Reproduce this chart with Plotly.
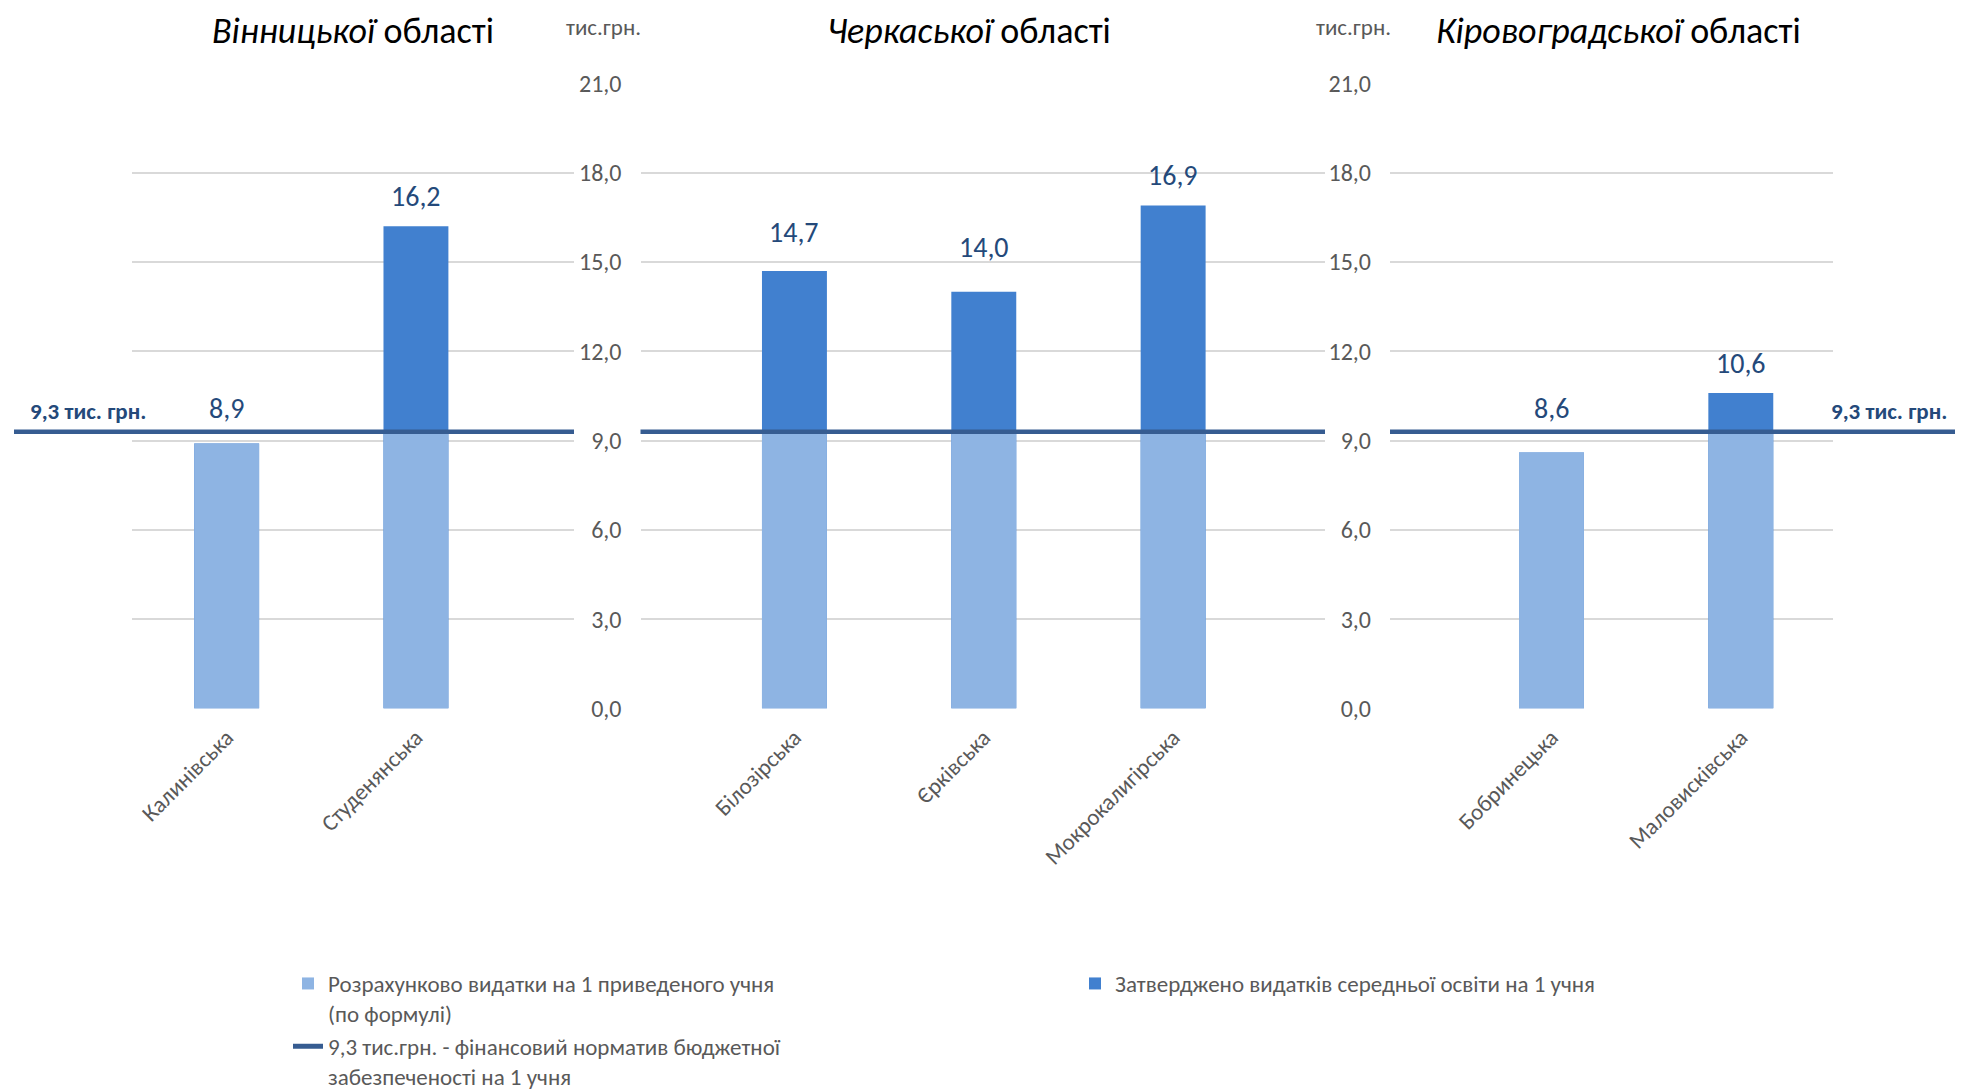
import plotly.graph_objects as go

# ---------------- data ----------------
REGIONS = ["Вінницької", "Черкаської", "Кіровоградської"]
CATEGORIES = [
    ["Калинівська", "Студенянська"],
    ["Білозірська", "Єрківська", "Мокрокалигірська"],
    ["Бобринецька", "Маловисківська"],
]
# Затверджено видатків середньої освіти на 1 учня (labels), тис.грн.
APPROVED = [
    [8.9, 16.2],
    [14.7, 14.0, 16.9],
    [8.6, 10.6],
]
# Розрахунково видатки на 1 приведеного учня (по формулі), тис.грн.
FORMULA = [
    [8.9, 9.3],
    [9.3, 9.3, 9.3],
    [8.6, 9.3],
]
NORM = 9.3
Y_TICKS = [0, 3, 6, 9, 12, 15, 18, 21]

SERIES_NAMES = [
    "Розрахунково видатки на 1 приведеного учня<br>(по формулі)",
    "Затверджено видатків середньої освіти на 1 учня",
    "9,3 тис.грн. - фінансовий норматив бюджетної<br>забезпеченості на 1 учня",
]

# ---------------- style ----------------
WIN_W, WIN_H = 1969, 1090
PAGE_MARGIN = 8                     # default body margin of the html page
W, H = WIN_W - PAGE_MARGIN, WIN_H - PAGE_MARGIN


def fx(p):  # window pixel -> paper x
    return (p - PAGE_MARGIN) / W


def fy(p):  # window pixel -> paper y
    return 1 - (p - PAGE_MARGIN) / H


LIGHT = "#8EB4E3"
DARK = "#4180CF"
NORM_C = "#365C91"
LABEL_C = "#24497A"
GRID_C = "#D9D9D9"
TICK_C = "#595959"
FONT = "Carlito, 'Liberation Sans Narrow', Lato, Roboto, sans-serif"

# panel geometry (window pixels)
PANELS_PX = [(132, 574), (640.5, 1325), (1390, 1833)]
X_RANGES = [(-0.5, 1.835), (-0.813, 2.802), (-0.853, 1.487)]
Y_BOTTOM_PX, Y_TOP_PX = 708.6, 83.3
YDOM = [fy(Y_BOTTOM_PX), fy(Y_TOP_PX)]
# extra vertical offsets (px) of the value labels, as placed in the original
LABEL_EXTRA = [[0, 0], [9, 15, 0], [0, 0]]

fig = go.Figure()

for i, cats in enumerate(CATEGORIES):
    ax = "" if i == 0 else str(i + 1)
    xa, ya = "x" + ax, "y" + ax
    fig.add_trace(go.Bar(
        x=cats, y=APPROVED[i], xaxis=xa, yaxis=ya,
        marker=dict(color=DARK, line=dict(width=0)), width=0.343,
        name=SERIES_NAMES[1], legendgroup="approved", legendrank=2,
        showlegend=(i == 0), hoverinfo="x+y",
    ))
    fig.add_trace(go.Bar(
        x=cats, y=FORMULA[i], xaxis=xa, yaxis=ya,
        marker=dict(color=LIGHT, line=dict(width=0)), width=0.343,
        name=SERIES_NAMES[0], legendgroup="formula", legendrank=1,
        showlegend=(i == 0), hoverinfo="x+y",
    ))
    # value labels
    for j, (c, v) in enumerate(zip(cats, APPROVED[i])):
        fig.add_annotation(
            x=c, y=max(v, NORM), xref=xa, yref=ya, text=f"{v:.1f}".replace(".", ","),
            showarrow=False, yanchor="bottom", xanchor="center",
            yshift=(10 if v > NORM else 4) + LABEL_EXTRA[i][j],
            font=dict(family=FONT, size=28, color=LABEL_C),
        )
    # axes
    x0, x1 = PANELS_PX[i]
    fig.update_layout(**{
        "xaxis" + ax: dict(
            domain=[fx(x0), fx(x1)], anchor=ya, type="category", automargin=False,
            range=list(X_RANGES[i]), showgrid=False, zeroline=False, showline=False,
            ticks="", tickangle=-45, ticklabelstandoff=10,
            tickfont=dict(family=FONT, size=23, color=TICK_C),
        ),
        "yaxis" + ax: dict(
            domain=YDOM, anchor=xa, range=[0, 21], tickvals=Y_TICKS, automargin=False,
            tickformat=".1f", showgrid=True, gridcolor=GRID_C, gridwidth=2,
            zeroline=False, showline=False, ticks="",
            showticklabels=(i > 0), ticklabelstandoff=18,
            tickfont=dict(family=FONT, size=24, color=TICK_C),
        ),
    })
    # panel title (box kept inside the page)
    fig.add_annotation(
        x=0.5, y=1.0, xref=xa + " domain", yref="paper",
        text=f"<i>{REGIONS[i]}</i> області", showarrow=False,
        xanchor="center", yanchor="top", borderpad=0,
        font=dict(family=FONT, size=36, color="#000000"),
        xshift=[0, -14, 7][i],
    )

# norm line segments (y from data, spanning panel edges)
segments = [(14, PANELS_PX[0][1]), PANELS_PX[1], (PANELS_PX[2][0], 1955)]
for i, (a, b) in enumerate(segments):
    ya = "y" if i == 0 else "y" + str(i + 1)
    fig.add_shape(type="line", xref="paper", yref=ya, x0=fx(a), x1=fx(b),
                  y0=NORM, y1=NORM, line=dict(color=NORM_C, width=4.5), layer="above")

# legend entry for the norm line
fig.add_trace(go.Scatter(
    x=[None], y=[None], mode="lines", line=dict(color=NORM_C, width=4.5),
    name=SERIES_NAMES[2], legendrank=3, showlegend=True,
))

# norm text labels
norm_txt = f"{NORM:.1f}".replace(".", ",") + " тис. грн."
fig.add_annotation(x=fx(28), y=NORM, xref="paper", yref="y", xanchor="left", yanchor="bottom",
                   yshift=5, text=f"<b>{norm_txt}</b>", showarrow=False,
                   font=dict(family=FONT, size=23, color=LABEL_C))
fig.add_annotation(x=fx(1949), y=NORM, xref="paper", yref="y3", xanchor="right", yanchor="bottom",
                   yshift=5, text=f"<b>{norm_txt}</b>", showarrow=False,
                   font=dict(family=FONT, size=23, color=LABEL_C))

# units
for xc in (603, 1353):
    fig.add_annotation(x=fx(xc), y=fy(27), xref="paper", yref="paper", text="тис.грн.",
                       showarrow=False, xanchor="center", yanchor="middle",
                       font=dict(family=FONT, size=23, color=TICK_C))

fig.update_layout(
    width=W, height=H, autosize=False,
    margin=dict(l=0, r=0, t=0, b=0, autoexpand=False),
    paper_bgcolor="white", plot_bgcolor="white",
    barmode="overlay", separators=", ",
    font=dict(family=FONT, color=TICK_C),
    legend=dict(
        orientation="h", x=fx(288), y=fy(962), xanchor="left", yanchor="top",
        entrywidth=742, entrywidthmode="pixels", valign="top",
        font=dict(family=FONT, size=23, color=TICK_C), traceorder="normal",
        itemsizing="constant",
    ),
    showlegend=True,
)

fig.write_html("out.html")
